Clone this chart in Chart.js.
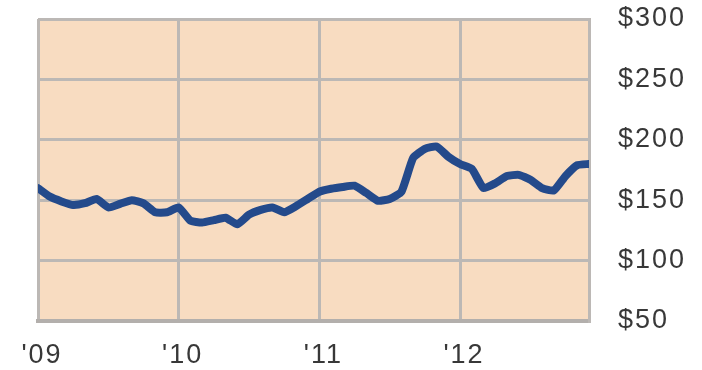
<!DOCTYPE html>
<html>
<head>
<meta charset="utf-8">
<script src="https://cdn.jsdelivr.net/npm/chart.js@4.4.1/dist/chart.umd.min.js"></script>
<style>
  html, body { margin: 0; padding: 0; background: #ffffff; }
  #wrap { width: 702px; height: 370px; }
</style>
</head>
<body>
<div id="wrap"><canvas id="c" width="702" height="370"></canvas></div>
<script>
// Monthly price, Jan 2009 .. Dec 2012 (dollars)
const months = [
  'Jan 09','Feb 09','Mar 09','Apr 09','May 09','Jun 09','Jul 09','Aug 09','Sep 09','Oct 09','Nov 09','Dec 09',
  'Jan 10','Feb 10','Mar 10','Apr 10','May 10','Jun 10','Jul 10','Aug 10','Sep 10','Oct 10','Nov 10','Dec 10',
  'Jan 11','Feb 11','Mar 11','Apr 11','May 11','Jun 11','Jul 11','Aug 11','Sep 11','Oct 11','Nov 11','Dec 11',
  'Jan 12','Feb 12','Mar 12','Apr 12','May 12','Jun 12','Jul 12','Aug 12','Sep 12','Oct 12','Nov 12','Dec 12'
];
const prices = [
  160, 153, 149, 146, 147.5, 151, 144, 147, 150, 147.4, 140, 140,
  144, 133, 131.5, 133.5, 135.5, 130, 138, 142, 144, 140, 145, 151,
  157, 159.5, 161, 162, 156, 149.5, 151, 157, 185, 192.5, 194.5, 186,
  180, 176, 160, 164, 170, 171, 167, 160, 158, 170, 179, 180
];
const yearLabels = ["'09", "'10", "'11", "'12"];
const priceTicks = ['$50', '$100', '$150', '$200', '$250', '$300'];

const PEACH = '#f8dcc1';
const GRID = '#bcb8b5';
const INK = '#383838';

const plotBackground = {
  id: 'plotBackground',
  beforeDraw(chart) {
    const { ctx, chartArea: a } = chart;
    ctx.save();
    ctx.fillStyle = PEACH;
    ctx.fillRect(a.left, a.top, a.right - a.left, a.bottom - a.top);
    ctx.restore();
    // slightly open lettering for the axis labels
    ctx.letterSpacing = '2px';
  }
};

const labelFont = { family: "'Liberation Sans', Arial, sans-serif", size: 27 };

new Chart(document.getElementById('c'), {
  type: 'line',
  data: {
    datasets: [{
      data: prices.map((v, i) => ({ x: i, y: v })),
      borderColor: '#244a8b',
      borderWidth: 8,
      borderCapStyle: 'round',
      borderJoinStyle: 'round',
      tension: 0.15,
      pointRadius: 0,
      fill: false
    }]
  },
  options: {
    responsive: false,
    animation: false,
    events: [],
    layout: { padding: { left: 38, top: 19, right: 0, bottom: 0 } },
    plugins: { legend: { display: false }, tooltip: { enabled: false } },
    scales: {
      x: {
        type: 'linear',
        min: 0,
        max: 47,
        afterFit(s) { s.height = 49; s.paddingLeft = 0; s.paddingRight = 0; },
        grid: { color: GRID, lineWidth: 3, drawTicks: false },
        border: { color: '#b3afac', width: 4 },
        ticks: {
          stepSize: 12,
          includeBounds: false,
          maxRotation: 0,
          padding: 18,
          labelOffset: 4,
          color: INK,
          font: labelFont,
          callback: (v) => yearLabels[v / 12]
        }
      },
      y: {
        position: 'right',
        min: 50,
        max: 300,
        afterFit(s) { s.width = 113; s.paddingTop = 0; s.paddingBottom = 0; },
        grid: { color: GRID, lineWidth: 3, drawTicks: false },
        border: { color: GRID, width: 3 },
        ticks: {
          stepSize: 50,
          padding: 29,
          color: INK,
          font: labelFont,
          callback: (v) => priceTicks[(v - 50) / 50]
        }
      }
    }
  },
  plugins: [plotBackground]
});
</script>
</body>
</html>
